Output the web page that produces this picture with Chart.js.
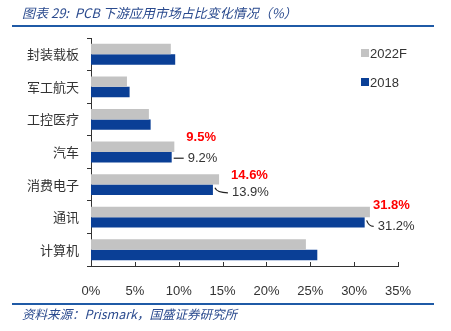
<!DOCTYPE html>
<html>
<head>
<meta charset="utf-8">
<script src="https://cdn.jsdelivr.net/npm/chart.js@4"></script>
<style>
  html, body { margin: 0; padding: 0; background: #fff; }
  #wrap { position: relative; width: 451px; height: 331px; }
</style>
</head>
<body>
<div id="wrap"><canvas id="pcbChart" width="451" height="331"></canvas></div>
<script>
const categories = ['封装载板', '军工航天', '工控医疗', '汽车', '消费电子', '通讯', '计算机']
const share2022F = [9.1, 4.1, 6.6, 9.5, 14.6, 31.8, 24.5]
const share2018 = [9.6, 4.4, 6.8, 9.2, 13.9, 31.2, 25.8]
const xTicks = [0, 5, 10, 15, 20, 25, 30, 35]
const labelled = [3, 4, 5]   // categories that carry value labels

const cjk = "'Noto Sans CJK SC', 'Noto Sans', sans-serif"
const latin = "'Liberation Sans', Arial, sans-serif"

// title, footer, legend, inside x ticks and value labels
const decor = {
    id: 'decor',
    afterDraw(chart) {
        const ctx = chart.ctx
        const area = chart.chartArea
        const x = chart.scales.x
        ctx.save()

        // header
        ctx.fillStyle = '#2a4a8e'
        ctx.font = 'italic 13px ' + cjk
        ctx.textBaseline = 'middle'
        ctx.fillText('图表 29:  PCB 下游应用市场占比变化情况（%）', 22, 13)
        ctx.strokeStyle = '#1f5aa6'
        ctx.lineWidth = 2
        ctx.beginPath(); ctx.moveTo(12, 26); ctx.lineTo(434, 26); ctx.stroke()

        // footer
        ctx.beginPath(); ctx.moveTo(12, 304); ctx.lineTo(434, 304); ctx.stroke()
        ctx.font = 'italic 12.5px ' + cjk
        ctx.fillText('资料来源：Prismark，国盛证券研究所', 22, 314)

        // x tick marks pointing up into the plot
        ctx.strokeStyle = '#333'
        ctx.lineWidth = 1
        xTicks.forEach(v => {
            const px = Math.round(x.getPixelForValue(v)) + 0.5
            ctx.beginPath(); ctx.moveTo(px, area.bottom); ctx.lineTo(px, area.bottom - 4); ctx.stroke()
        })

        // legend
        ctx.font = '13px ' + latin
        chart.data.datasets.forEach((ds, i) => {
            const ly = 53 + i * 29
            ctx.fillStyle = ds.backgroundColor
            ctx.fillRect(361, ly - 4, 8, 8)
            ctx.fillStyle = '#333'
            ctx.textAlign = 'left'
            ctx.fillText(ds.label, 370, ly + 1)
        })

        // value labels
        const grey = chart.getDatasetMeta(0).data
        const blue = chart.getDatasetMeta(1).data
        const redOff = [[12, -9], [12, -4], [3, -7]]
        const blkOff = [[16, 1], [19, 3], [13, 4]]
        labelled.forEach((idx, k) => {
            const g = grey[idx], b = blue[idx]
            ctx.font = 'bold 13px ' + latin
            ctx.fillStyle = '#ff0000'
            ctx.fillText(share2022F[idx].toFixed(1) + '%', g.x + redOff[k][0], g.y + redOff[k][1])

            const tx = b.x + blkOff[k][0], ty = b.y + blkOff[k][1]
            ctx.strokeStyle = '#222'
            ctx.lineWidth = 1.2
            ctx.beginPath()
            if (k === 0) {
                ctx.moveTo(b.x + 2, ty); ctx.lineTo(tx - 4, ty)
            } else {
                ctx.moveTo(b.x + 2, b.y - 2)
                ctx.quadraticCurveTo(b.x + 4, ty, tx - 4, ty)
            }
            ctx.stroke()
            ctx.font = '13px ' + latin
            ctx.fillStyle = '#333'
            ctx.fillText(share2018[idx].toFixed(1) + '%', tx, ty)
        })
        ctx.restore()
    }
}

new Chart(document.getElementById('pcbChart').getContext('2d'), {
    type: 'bar',
    data: {
        labels: categories,
        datasets: [
            { label: '2022F', data: share2022F, backgroundColor: '#c3c3c3' },
            { label: '2018', data: share2018, backgroundColor: '#0a3f96' }
        ]
    },
    options: {
        indexAxis: 'y',
        responsive: false,
        animation: false,
        events: [],
        datasets: { bar: { categoryPercentage: 0.64, barPercentage: 1 } },
        layout: { padding: { top: 38, left: 0, right: 53, bottom: 0 } },
        plugins: { legend: { display: false }, tooltip: { enabled: false }, title: { display: false } },
        scales: {
            x: {
                min: 0, max: 35,
                afterBuildTicks: s => { s.ticks = xTicks.map(v => ({ value: v })) },
                afterFit: s => { s.height = 65; s.paddingLeft = 0; s.paddingRight = 0 },
                grid: { display: false },
                border: { display: true, color: '#333', width: 1 },
                ticks: { padding: 10, color: '#333', font: { family: latin, size: 13 }, callback: v => v + '%' }
            },
            y: {
                afterFit: s => { s.width = 91; s.paddingTop = 0; s.paddingBottom = 0 },
                grid: { drawOnChartArea: false, drawTicks: true, tickLength: 4, offset: true, color: '#333' },
                border: { display: true, color: '#333', width: 1 },
                ticks: { padding: 8, color: '#333', font: { family: cjk, size: 13 } }
            }
        }
    },
    plugins: [decor]
})
</script>
</body>
</html>
